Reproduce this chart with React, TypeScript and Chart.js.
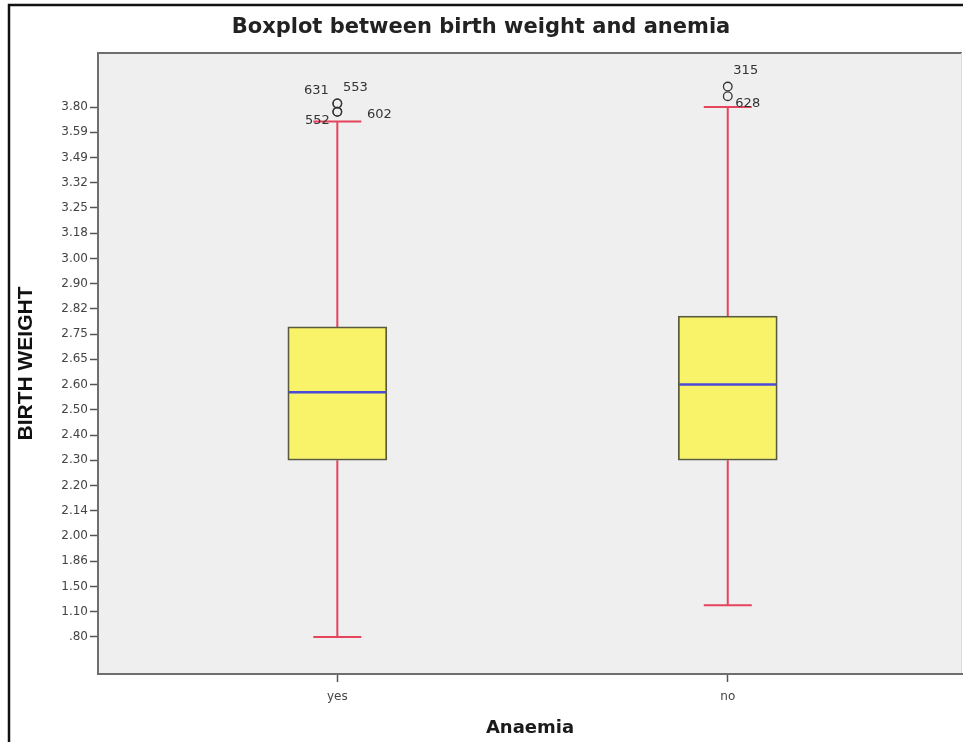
import React, { useEffect, useRef } from "react";
import { Chart, registerables } from "chart.js";

Chart.register(...registerables);

// ---- data ----
const categories = ["yes", "no"];
const tickValues = [0.8, 1.1, 1.5, 1.86, 2.0, 2.14, 2.2, 2.3, 2.4, 2.5, 2.6, 2.65, 2.75, 2.82, 2.9, 3.0, 3.18, 3.25, 3.32, 3.49, 3.59, 3.8];
const whiskerLow = [0.8, 1.2];
const q1 = [2.3, 2.3];
const median = [2.57, 2.6];
const q3 = [2.77, 2.8];
const whiskerHigh = [3.68, 3.8];
const outlierGroup = ["yes", "yes", "yes", "yes", "no", "no"];
const outlierValue = [3.83, 3.83, 3.76, 3.76, 3.97, 3.89];
const outlierCase = ["631", "553", "552", "602", "315", "628"];

// ---- style ----
const labelOffsets: [number, number][] = [[-21, -13], [18, -16], [-20, 9], [42, 3], [18, -16], [20, 7]];
const BOX_HALF = 0.127;
const CAP_HALF = 0.0615;

// Axis in the reference is ordinal: tick labels equally spaced. Map a value onto that axis.
function toPos(v: number): number {
  const t = tickValues;
  const n = t.length;
  if (v <= t[0]) return (v - t[0]) / (t[1] - t[0]);
  if (v >= t[n - 1]) return n - 1 + (v - t[n - 1]) / (t[n - 1] - t[n - 2]);
  for (let i = 0; i < n - 1; i++) {
    if (v >= t[i] && v <= t[i + 1]) return i + (v - t[i]) / (t[i + 1] - t[i]);
  }
  return 0;
}
const fmt = (v: number) => v.toFixed(2).replace(/^0/, "");

const bgPlugin = {
  id: "bgPlugin",
  beforeDraw(chart: any) {
    const { ctx, chartArea: a } = chart;
    ctx.save();
    ctx.fillStyle = "#ffffff";
    ctx.fillRect(0, 0, chart.width, chart.height);
    ctx.fillStyle = "#efefef";
    ctx.fillRect(a.left, a.top, a.right - a.left, a.bottom - a.top);
    ctx.strokeStyle = "#111";
    ctx.lineWidth = 2.5;
    ctx.beginPath();
    ctx.moveTo(9, chart.height);
    ctx.lineTo(9, 5);
    ctx.lineTo(chart.width, 5);
    ctx.stroke();
    ctx.strokeStyle = "#6e6e6e";
    ctx.lineWidth = 2;
    ctx.beginPath();
    ctx.moveTo(a.left, a.top);
    ctx.lineTo(a.right, a.top);
    ctx.stroke();
    ctx.strokeStyle = "#dcdcdc";
    ctx.lineWidth = 1;
    ctx.beginPath();
    ctx.moveTo(a.right - 0.5, a.top);
    ctx.lineTo(a.right - 0.5, a.bottom);
    ctx.stroke();
    ctx.restore();
  },
  beforeDatasetsDraw(chart: any) {
    const { ctx } = chart;
    const xs = chart.scales.x;
    const ys = chart.scales.y;
    ctx.save();
    ctx.strokeStyle = "#e6435d";
    ctx.lineWidth = 2;
    categories.forEach((_, i) => {
      const x = xs.getPixelForValue(i + 1);
      const xl = xs.getPixelForValue(i + 1 - CAP_HALF);
      const xr = xs.getPixelForValue(i + 1 + CAP_HALF);
      const yHi = ys.getPixelForValue(toPos(whiskerHigh[i]));
      const yLo = ys.getPixelForValue(toPos(whiskerLow[i]));
      const yQ1 = ys.getPixelForValue(toPos(q1[i]));
      const yQ3 = ys.getPixelForValue(toPos(q3[i]));
      ctx.beginPath();
      ctx.moveTo(x, yQ3);
      ctx.lineTo(x, yHi);
      ctx.moveTo(xl, yHi);
      ctx.lineTo(xr, yHi);
      ctx.moveTo(x, yQ1);
      ctx.lineTo(x, yLo);
      ctx.moveTo(xl, yLo);
      ctx.lineTo(xr, yLo);
      ctx.stroke();
    });
    ctx.restore();
  },
  afterDatasetsDraw(chart: any) {
    const { ctx } = chart;
    const xs = chart.scales.x;
    const ys = chart.scales.y;
    ctx.save();
    ctx.strokeStyle = "#4a4ad8";
    ctx.lineWidth = 2.5;
    categories.forEach((_, i) => {
      const xl = xs.getPixelForValue(i + 1 - BOX_HALF);
      const xr = xs.getPixelForValue(i + 1 + BOX_HALF);
      const y = ys.getPixelForValue(toPos(median[i]));
      ctx.beginPath();
      ctx.moveTo(xl + 1, y);
      ctx.lineTo(xr - 1, y);
      ctx.stroke();
    });
    ctx.fillStyle = "#333";
    ctx.font = "13px 'DejaVu Sans'";
    ctx.textAlign = "center";
    ctx.textBaseline = "middle";
    outlierCase.forEach((c, k) => {
      const gi = categories.indexOf(outlierGroup[k]);
      const px = xs.getPixelForValue(gi + 1);
      const py = ys.getPixelForValue(toPos(outlierValue[k]));
      const [dx, dy] = labelOffsets[k];
      ctx.fillText(c, px + dx, py + dy);
    });
    ctx.restore();
  },
};

export default function App() {
  const ref = useRef<HTMLCanvasElement>(null);
  useEffect(() => {
    Chart.defaults.font.family = "'DejaVu Sans'";
    const chart = new Chart(ref.current as HTMLCanvasElement, {
      type: "bar",
      data: {
        datasets: [
          {
            type: "scatter",
            label: "outliers",
            data: outlierValue.map((v, k) => ({ x: categories.indexOf(outlierGroup[k]) + 1, y: toPos(v) })),
            pointStyle: "circle",
            pointRadius: 4.3,
            pointBorderColor: "#333",
            pointBackgroundColor: "rgba(0,0,0,0)",
            pointBorderWidth: 1.3,
            order: 0,
          } as any,
          {
            type: "bar",
            label: "box",
            data: categories.map((_, i) => ({ x: i + 1, y: [toPos(q1[i]), toPos(q3[i])] })),
            backgroundColor: "#f9f36a",
            borderColor: "#5a5a40",
            borderWidth: 1.8,
            borderSkipped: false,
            barThickness: 99,
            order: 1,
          } as any,
        ],
      },
      options: {
        responsive: false,
        animation: false,
        indexAxis: "x",
        layout: { autoPadding: false, padding: { left: 0, right: 1, top: 0, bottom: 0 } },
        plugins: {
          legend: { display: false },
          tooltip: { enabled: false },
          title: {
            display: true,
            text: "Boxplot between birth weight and anemia",
            font: { size: 21, family: "'DejaVu Sans'", weight: "bold" },
            color: "#222",
            padding: { top: 15, bottom: 12.8 },
          },
        },
        scales: {
          x: {
            type: "linear",
            offset: false,
            min: 0.387,
            max: 2.6,
            afterFit: (s: any) => {
              s.height = 68;
            },
            afterBuildTicks: (s: any) => {
              s.ticks = categories.map((_, i) => ({ value: i + 1 }));
            },
            ticks: {
              callback: (v: any) => categories[Number(v) - 1] ?? "",
              color: "#444",
              font: { size: 12, family: "'DejaVu Sans'" },
              padding: 8,
              maxRotation: 0,
              autoSkip: false,
            },
            grid: { drawOnChartArea: false, offset: false, tickLength: 8, tickColor: "#555", tickWidth: 1.5 },
            border: { display: true, color: "#6e6e6e", width: 2 },
            title: {
              display: true,
              text: "Anaemia",
              color: "#1a1a1a",
              font: { size: 18, family: "'DejaVu Sans'", weight: "bold" },
              padding: { top: 0, bottom: 3 },
            },
          },
          y: {
            type: "linear",
            min: -1.47,
            max: 23.14,
            afterFit: (s: any) => {
              s.width = 98;
            },
            afterBuildTicks: (s: any) => {
              s.ticks = tickValues.map((_, i) => ({ value: i }));
            },
            ticks: {
              callback: (v: any) => (tickValues[Number(v)] !== undefined ? fmt(tickValues[Number(v)]) : ""),
              color: "#444",
              font: { size: 12, family: "'DejaVu Sans'" },
              padding: 2,
              autoSkip: false,
            },
            grid: { drawOnChartArea: false, tickLength: 8, tickColor: "#555", tickWidth: 1.5 },
            border: { display: true, color: "#6e6e6e", width: 2 },
            title: {
              display: true,
              text: "BIRTH WEIGHT",
              color: "#111",
              font: { size: 21, family: "'Liberation Sans'", weight: "bold" },
              padding: { top: 14, bottom: 0 },
            },
          },
        },
      } as any,
      plugins: [bgPlugin],
    });
    return () => chart.destroy();
  }, []);
  return (
    <div style={{ position: "absolute", left: 0, top: 0, width: 963, height: 742 }}>
      <canvas ref={ref} width={963} height={742} style={{ display: "block", width: 963, height: 742 }} />
    </div>
  );
}
